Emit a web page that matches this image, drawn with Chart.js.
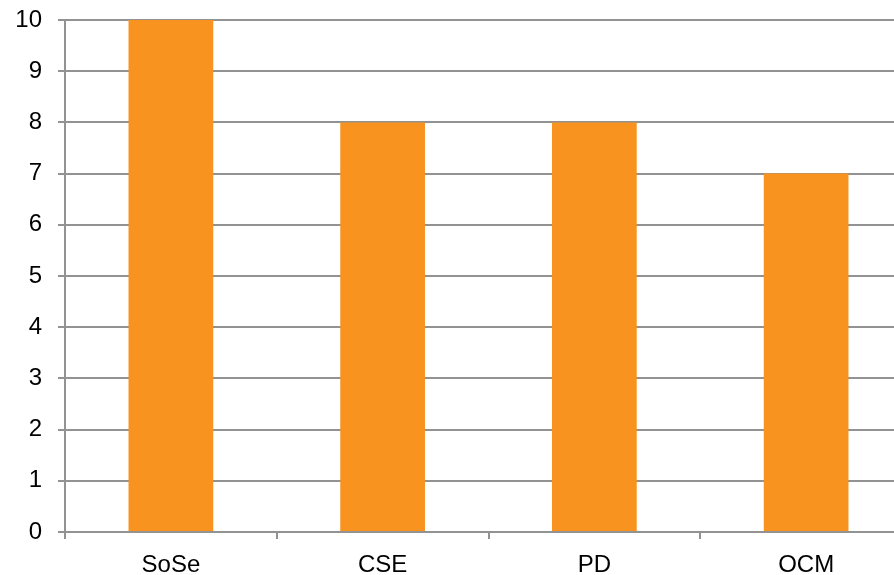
<!DOCTYPE html>
<html>
<head>
<meta charset="utf-8">
<script src="https://cdn.jsdelivr.net/npm/chart.js@4/dist/chart.umd.min.js"></script>
<style>
  html, body { margin: 0; padding: 0; background: #fff; overflow: hidden; }
  #wrap { width: 920px; height: 575px; position: relative; }
</style>
</head>
<body>
<div id="wrap"><canvas id="c"></canvas></div>
<script>
const categories = ["SoSe", "CSE", "PD", "OCM"];
const values = [10, 8, 8, 7];
const yTicks = [0, 1, 2, 3, 4, 5, 6, 7, 8, 9, 10];

const gridColor = "#929292";
const fontSpec = { family: "'Liberation Sans', Arial, sans-serif", size: 24 };

new Chart(document.getElementById("c"), {
  type: "bar",
  data: {
    labels: categories,
    datasets: [{
      data: values,
      backgroundColor: "#F7931E",
      borderWidth: 0,
      categoryPercentage: 1.0,
      barPercentage: 0.4
    }]
  },
  options: {
    responsive: true,
    maintainAspectRatio: false,
    animation: false,
    layout: { padding: { top: 20, right: 8, left: 0, bottom: 0 } },
    plugins: { legend: { display: false }, tooltip: { enabled: false } },
    scales: {
      x: {
        offset: true,
        grid: { offset: true, drawOnChartArea: false, drawTicks: true, tickLength: 7, color: gridColor, lineWidth: 2 },
        border: { display: true, color: gridColor, width: 2 },
        ticks: { color: "#000", font: fontSpec, padding: 12, maxRotation: 0 },
        afterFit: (s) => { s.height = 43; s.paddingLeft = 0; s.paddingRight = 0; }
      },
      y: {
        min: 0,
        max: 10,
        afterBuildTicks: (s) => { s.ticks = yTicks.map(v => ({ value: v })); },
        grid: { color: gridColor, lineWidth: 2, tickLength: 7, drawTicks: true },
        border: { display: true, color: gridColor, width: 2 },
        ticks: { color: "#000", font: fontSpec, padding: 16 },
        afterFit: (s) => { s.width = 65; s.paddingTop = 0; s.paddingBottom = 0; }
      }
    }
  }
});
</script>
</body>
</html>
